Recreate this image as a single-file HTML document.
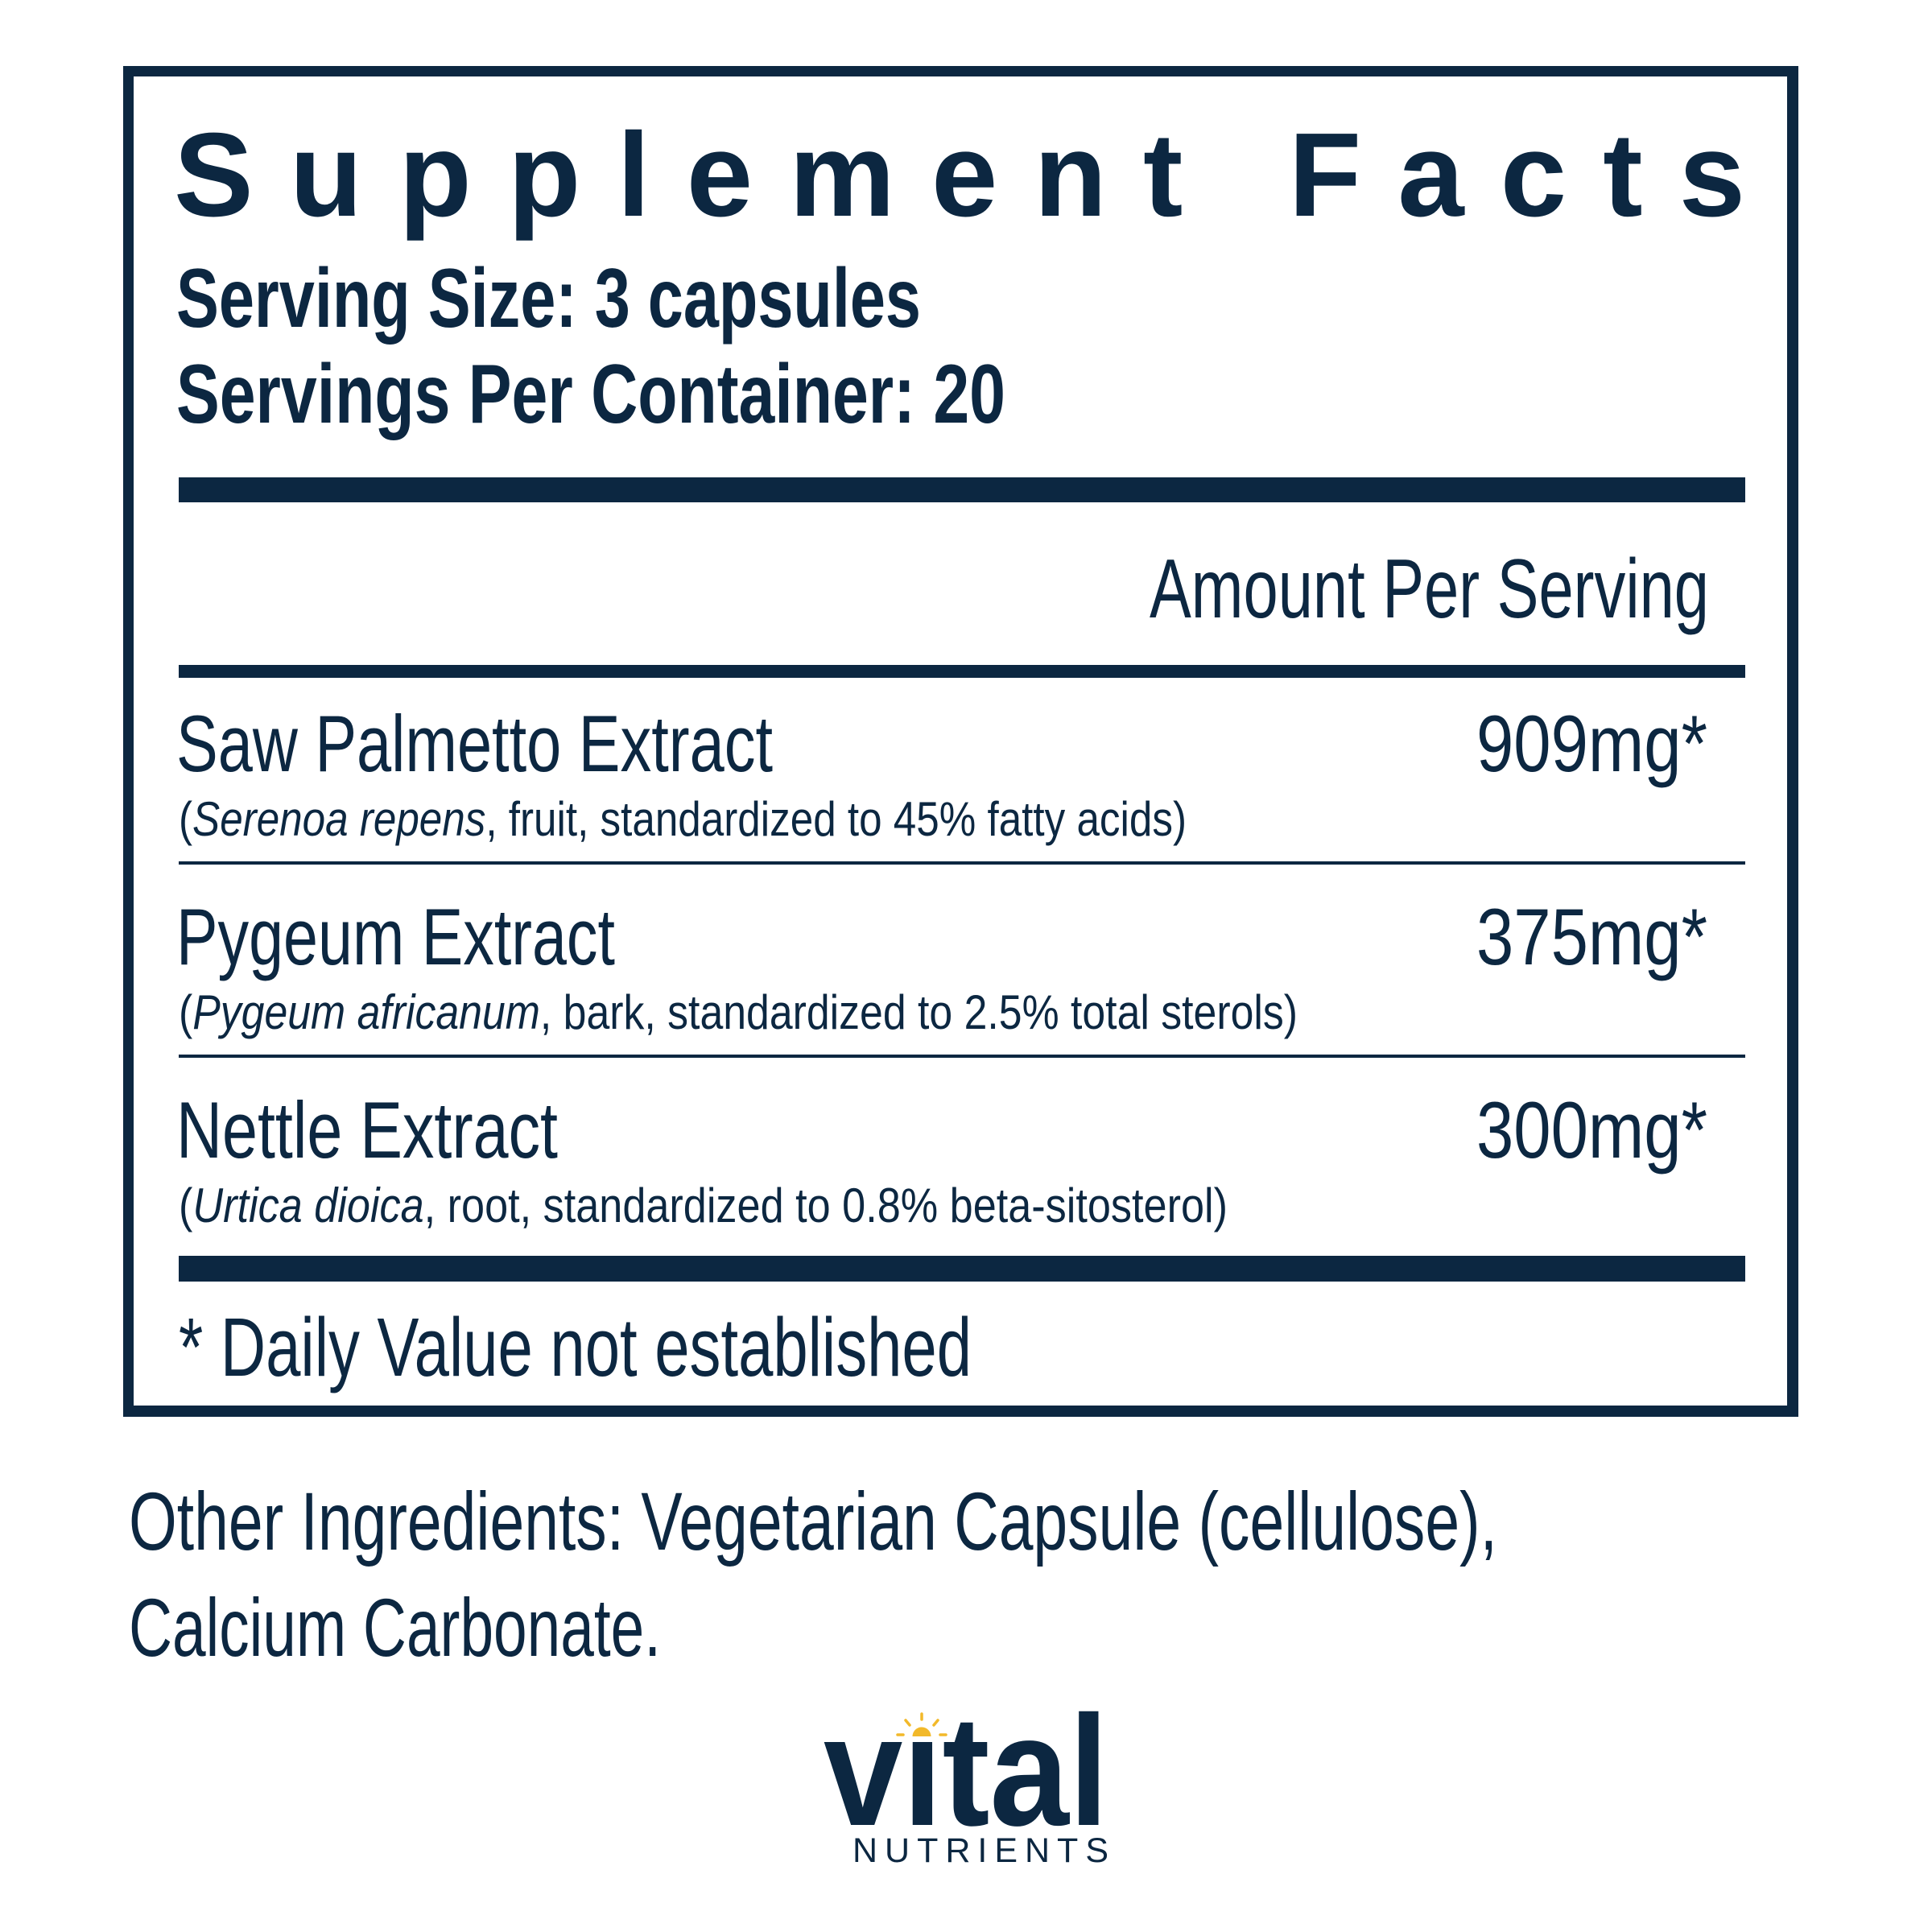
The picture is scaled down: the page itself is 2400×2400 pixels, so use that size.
<!DOCTYPE html>
<html>
<head>
<meta charset="utf-8">
<style>
  html, body { margin: 0; padding: 0; background: #ffffff; }
  svg { display: block; }
  text { font-family: "Liberation Sans", Arial, sans-serif; fill: #0c2741; }
</style>
</head>
<body>
<svg width="2400" height="2400" viewBox="0 0 2400 2400" xmlns="http://www.w3.org/2000/svg">
  <rect x="0" y="0" width="2400" height="2400" fill="#ffffff"/>

  <!-- outer box -->
  <g fill="#0c2741">
    <rect x="153" y="82" width="2081" height="13"/>
    <rect x="153" y="82" width="13" height="1678"/>
    <rect x="2220" y="82" width="14" height="1678"/>
    <rect x="153" y="1746" width="2081" height="14"/>
  </g>

  <!-- title -->
  <text x="216" y="268" font-size="148" font-weight="bold" textLength="1952" lengthAdjust="spacing">Supplement Facts</text>

  <text x="219" y="406" font-size="104" font-weight="bold" textLength="925" lengthAdjust="spacingAndGlyphs">Serving Size: 3 capsules</text>
  <text x="219" y="525" font-size="104" font-weight="bold" textLength="1030" lengthAdjust="spacingAndGlyphs">Servings Per Container: 20</text>

  <!-- rules -->
  <g fill="#0c2741">
    <rect x="222" y="593" width="1946" height="31"/>
    <rect x="222" y="826" width="1946" height="16"/>
    <rect x="222" y="1070" width="1946" height="4"/>
    <rect x="222" y="1310" width="1946" height="4"/>
    <rect x="222" y="1560" width="1946" height="32"/>
  </g>

  <text x="1428" y="767" font-size="104" textLength="695" lengthAdjust="spacingAndGlyphs">Amount Per Serving</text>

  <!-- rows -->
  <text x="219" y="958" font-size="99" textLength="741" lengthAdjust="spacingAndGlyphs">Saw Palmetto Extract</text>
  <text x="1834" y="958" font-size="99" textLength="287" lengthAdjust="spacingAndGlyphs">909mg*</text>
  <text x="222" y="1038" font-size="60" textLength="1252" lengthAdjust="spacingAndGlyphs">(<tspan font-style="italic">Serenoa repens</tspan>, fruit, standardized to 45% fatty acids)</text>

  <text x="219" y="1198" font-size="99" textLength="545" lengthAdjust="spacingAndGlyphs">Pygeum Extract</text>
  <text x="1834" y="1198" font-size="99" textLength="287" lengthAdjust="spacingAndGlyphs">375mg*</text>
  <text x="222" y="1278" font-size="60" textLength="1390" lengthAdjust="spacingAndGlyphs">(<tspan font-style="italic">Pygeum africanum</tspan>, bark, standardized to 2.5% total sterols)</text>

  <text x="219" y="1438" font-size="99" textLength="474" lengthAdjust="spacingAndGlyphs">Nettle Extract</text>
  <text x="1834" y="1438" font-size="99" textLength="287" lengthAdjust="spacingAndGlyphs">300mg*</text>
  <text x="222" y="1518" font-size="60" textLength="1303" lengthAdjust="spacingAndGlyphs">(<tspan font-style="italic">Urtica dioica</tspan>, root, standardized to 0.8% beta-sitosterol)</text>

  <text x="222" y="1709" font-size="103" textLength="985" lengthAdjust="spacingAndGlyphs">* Daily Value not established</text>

  <!-- other ingredients -->
  <text x="160" y="1925" font-size="102" textLength="1700" lengthAdjust="spacingAndGlyphs">Other Ingredients: Vegetarian Capsule (cellulose),</text>
  <text x="160" y="2057" font-size="102" textLength="661" lengthAdjust="spacingAndGlyphs">Calcium Carbonate.</text>

  <!-- logo -->
  <text x="1023" y="2267" font-size="195" font-weight="bold" textLength="354" lengthAdjust="spacingAndGlyphs">vital</text>
  <rect x="1126" y="2108" width="38" height="52" fill="#ffffff"/>
  <g fill="#f2b92a" stroke="#f2b92a">
    <path d="M1133.5 2157 A11.5 11.5 0 0 1 1156.5 2157 Z" stroke="none"/>
    <line x1="1145" y1="2129" x2="1145" y2="2136" stroke-width="3.5" stroke-linecap="round"/>
    <line x1="1125" y1="2137" x2="1130" y2="2143" stroke-width="3.5" stroke-linecap="round"/>
    <line x1="1165" y1="2137" x2="1160" y2="2143" stroke-width="3.5" stroke-linecap="round"/>
    <line x1="1115" y1="2155" x2="1122" y2="2155" stroke-width="3.5" stroke-linecap="round"/>
    <line x1="1168" y1="2155" x2="1175" y2="2155" stroke-width="3.5" stroke-linecap="round"/>
  </g>
  <text x="1059" y="2313" font-size="43" textLength="318" lengthAdjust="spacing">NUTRIENTS</text>
</svg>
</body>
</html>
